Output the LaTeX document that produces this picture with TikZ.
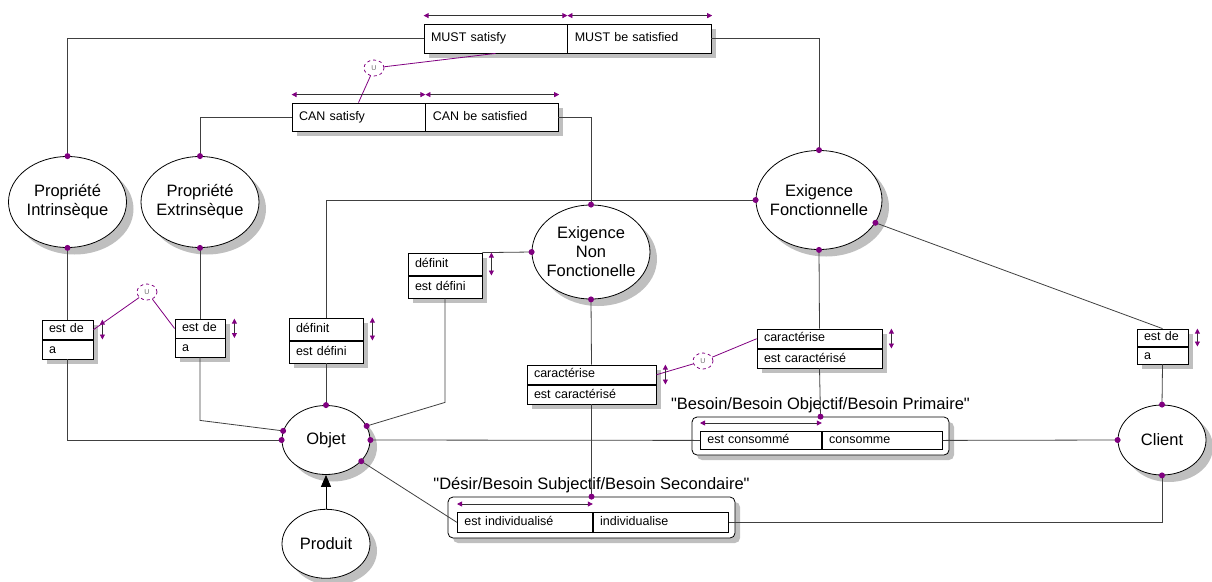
\documentclass[tikz,border=0pt]{standalone}
\usepackage{fontspec}
\setmainfont{Liberation Sans}
\usepackage{tikz}
\usetikzlibrary{positioning,shapes.geometric,shadows,arrows.meta}
\definecolor{relpurple}{RGB}{128,0,128}

\begin{document}
\begin{tikzpicture}[x=1pt, y=-1pt, line width=0.8pt,
    boxshadow/.style={drop shadow={shadow xshift=5pt, shadow yshift=-5pt, fill=black!25, opacity=1}},
    entity/.style={ellipse, draw, fill=white, inner xsep=-8pt, inner ysep=0pt, align=center, font=\fontsize{16.5}{19}\selectfont, drop shadow={shadow xshift=7pt, shadow yshift=-7pt, fill=black!25, opacity=1}},
    cardframe/.style={draw, fill=white, inner sep=0pt, boxshadow},
    rolebox/.style={draw, rounded corners=5pt, fill=white, inner sep=0pt, boxshadow},
    cell/.style={draw, fill=white, anchor=north west, inner xsep=7pt, inner ysep=0pt, text height=9pt, text depth=3pt, align=left, font=\fontsize{12.5}{14}\selectfont},
    title/.style={font=\fontsize{16.5}{19}\selectfont, inner sep=0pt},
    union/.style={ellipse, draw=relpurple, dashed, minimum width=20pt, minimum height=16pt, inner sep=0pt, text=black!60, font=\fontsize{7}{7}\selectfont},
    link/.style={draw=black!75},
    ulink/.style={draw=relpurple},
    card/.style={{Triangle[color=relpurple, length=5pt, width=5pt]}-{Triangle[color=relpurple, length=5pt, width=5pt]}, draw=black!80}]

    \useasboundingbox (0,0) rectangle (1212,581);

    \node[entity, minimum width=118pt, minimum height=91pt] (PI) at (67.5,202) {Propriété\\Intrinsèque};
    \node[entity, minimum width=118pt, minimum height=91pt] (PE) at (200,202) {Propriété\\Extrinsèque};
    \node[entity, minimum width=118pt, minimum height=94pt] (ENF) at (591,252) {Exigence\\Non\\Fonctionelle};
    \node[entity, minimum width=126pt, minimum height=99pt] (EF) at (819,200) {Exigence\\Fonctionnelle};
    \node[entity, minimum width=88pt, minimum height=69pt] (Objet) at (326,440) {Objet};
    \node[entity, minimum width=88pt, minimum height=69pt, below=34pt of Objet] (Produit) {Produit};
    \node[entity, minimum width=88pt, minimum height=70pt] (Client) at (1162,440) {Client};

    \node[cardframe, minimum width=287pt, minimum height=29pt] (must) at (567.5,38.5) {};
    \node[cell, minimum height=29pt, text width=129pt] (mustl) at (must.north west) {MUST satisfy};
    \node[cell, minimum height=29pt, text width=130pt, right=0pt of mustl] (mustr) {MUST be satisfied};

    \node[cardframe, minimum width=266pt, minimum height=28pt] (can) at (425,117) {};
    \node[cell, minimum height=28pt, text width=119pt] (canl) at (can.north west) {CAN satisfy};
    \node[cell, minimum height=28pt, text width=119pt, right=0pt of canl] (canr) {CAN be satisfied};

    \node[cardframe, minimum width=51pt, minimum height=39pt] (ed1) at (67.5,339.5) {};
    \node[cell, minimum height=19.5pt, text width=37pt] (ed1t) at (ed1.north west) {est de};
    \node[cell, minimum height=19.5pt, text width=37pt, below=0pt of ed1t] (ed1b) {a};

    \node[cardframe, minimum width=50pt, minimum height=38pt] (ed2) at (200,338) {};
    \node[cell, minimum height=19pt, text width=36pt] (ed2t) at (ed2.north west) {est de};
    \node[cell, minimum height=19pt, text width=36pt, below=0pt of ed2t] (ed2b) {a};

    \node[cardframe, minimum width=74pt, minimum height=45pt] (def1) at (326,340.5) {};
    \node[cell, minimum height=22.5pt, text width=60pt] (def1t) at (def1.north west) {définit};
    \node[cell, minimum height=22.5pt, text width=60pt, below=0pt of def1t] (def1b) {est défini};

    \node[cardframe, minimum width=74pt, minimum height=45pt] (def2) at (445,275.5) {};
    \node[cell, minimum height=22.5pt, text width=60pt] (def2t) at (def2.north west) {définit};
    \node[cell, minimum height=22.5pt, text width=60pt, below=0pt of def2t] (def2b) {est défini};

    \node[cardframe, minimum width=129pt, minimum height=39pt] (car1) at (591.5,384.5) {};
    \node[cell, minimum height=19.5pt, text width=115pt] (car1t) at (car1.north west) {caractérise};
    \node[cell, minimum height=19.5pt, text width=115pt, below=0pt of car1t] (car1b) {est caractérisé};

    \node[cardframe, minimum width=125pt, minimum height=39pt] (car2) at (819.5,348.5) {};
    \node[cell, minimum height=19.5pt, text width=111pt] (car2t) at (car2.north west) {caractérise};
    \node[cell, minimum height=19.5pt, text width=111pt, below=0pt of car2t] (car2b) {est caractérisé};

    \node[cardframe, minimum width=51pt, minimum height=35pt] (ed3) at (1162.5,346.5) {};
    \node[cell, minimum height=17.5pt, text width=37pt] (ed3t) at (ed3.north west) {est de};
    \node[cell, minimum height=17.5pt, text width=37pt, below=0pt of ed3t] (ed3b) {a};

    \node[rolebox, minimum width=257pt, minimum height=38pt] (besoin) at (820.5,436) {};
    \node[cell, minimum height=18pt, text width=107pt] (besl) at (700,431) {est consommé};
    \node[cell, minimum height=18pt, text width=106pt, right=0pt of besl] (besr) {consomme};
    \node[title, above=3pt of besoin] (bestitle) {\textquotedbl Besoin/Besoin Objectif/Besoin Primaire\textquotedbl};

    \node[rolebox, minimum width=287pt, minimum height=41pt] (desir) at (591.5,517.5) {};
    \node[cell, minimum height=20pt, text width=121pt] (desl) at (457,512) {est individualisé};
    \node[cell, minimum height=20pt, text width=121pt, right=0pt of desl] (desr) {individualise};
    \node[title, above=3pt of desir] (destitle) {\textquotedbl Désir/Besoin Subjectif/Besoin Secondaire\textquotedbl};

    \node[union] (u1) at (374,68) {U};
    \node[union] (u2) at (147,292) {U};
    \node[union] (u3) at (703,361) {U};

    \draw[link] (must.west) -| (PI.north);
    \draw[link] (must.east) -| (EF.north);
    \draw[link] (can.west) -| (PE.north);
    \draw[link] (can.east) -| (ENF.north);

    \draw[link] (PI.south) -- (ed1.north);
    \draw[link] (ed1.south) |- (Objet.180);
    \draw[link] (PE.south) -- (ed2.north);
    \draw[link] (ed2.south) -- ++(0,63) -- (Objet.168);

    \draw[link] (EF.west) -| (def1.north);
    \draw[link] (def1.south) -- (Objet.north);
    \draw[link] (def2.north east) -- (ENF.west);
    \draw[link] (def2.south) -- ++(0,104) -- (Objet.19);

    \draw[link] (ENF.south) -- (car1.north);
    \draw[link] (car1.south) -- (desir.north);
    \draw[link] (EF.south) -- (car2.north);
    \draw[link] (car2.south) -- (besoin.north);
    \draw[link] (EF.-22) -- (ed3.north);
    \draw[link] (ed3.south) -- (Client.north);

    \draw[link] (Objet.east) -- (besl.west);
    \draw[link] (besr.east) -- (Client.west);
    \draw[link] (Objet.-31) -- (desl.west);
    \draw[link] (desr.east) -| (Client.south);
    \draw[-{Triangle[length=12pt, width=10pt]}] (Produit) -- (Objet);

    \draw[ulink] (u1) -- (mustl.south);
    \draw[ulink] (u1) -- (canl.north);
    \draw[ulink] (u2) -- (ed1t.east);
    \draw[ulink] (u2) -- (ed2t.west);
    \draw[ulink] (u3) -- (car2t.west);
    \draw[ulink] (u3) -- (car1t.east);

    \draw[card] ([yshift=8pt]mustl.north west) -- ([yshift=8pt]mustl.north east);
    \draw[card] ([yshift=8pt]mustr.north west) -- ([yshift=8pt]mustr.north east);
    \draw[card] ([yshift=8pt]canl.north west) -- ([yshift=8pt]canl.north east);
    \draw[card] ([yshift=8pt]canr.north west) -- ([yshift=8pt]canr.north east);
    \draw[card] ([yshift=8pt]besl.north west) -- ([yshift=8pt]besl.north east);
    \draw[card] ([yshift=8pt]desl.north west) -- ([yshift=8pt]desl.north east);

    \foreach \b in {ed1, ed2, def1, def2, car1, car2, ed3}
        \draw[card] ([xshift=9pt]\b.north east) -- ([xshift=9pt]\b.east);

    \foreach \p in {PI.north, PI.south, PE.north, PE.south, ENF.north, ENF.west, ENF.south,
                    EF.north, EF.west, EF.south, EF.-22, Objet.north, Objet.168, Objet.180,
                    Objet.19, Objet.east, Objet.-31, Client.north, Client.west, Client.south,
                    besoin.north, desir.north}
        \fill[relpurple] (\p) circle (3pt);
\end{tikzpicture}
\end{document}
